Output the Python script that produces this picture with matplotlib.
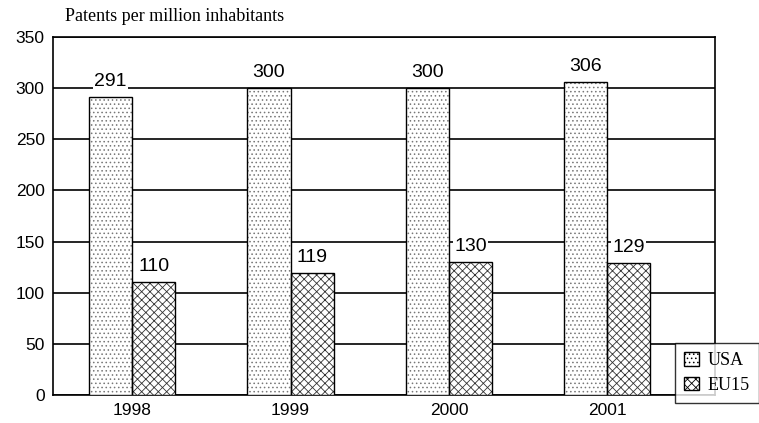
import numpy
import matplotlib
matplotlib.use("Agg")
import matplotlib.pyplot

# Данные
years = ["1998", "1999", "2000", "2001"]
usa = [291, 300, 300, 306]
eu15 = [110, 119, 130, 129]

matplotlib.pyplot.rcParams["hatch.linewidth"] = 0.6

fig = matplotlib.pyplot.figure(figsize=(7.59, 4.23), dpi=100)
ax = fig.add_axes([0.0698, 0.0662, 0.8722, 0.8463])

x = numpy.arange(len(years))
width = 0.272

# Штриховка (серым)
ax.bar(x - width / 2, usa, width, color="white", edgecolor="#777777",
       hatch="....", linewidth=0, zorder=3)
ax.bar(x + width / 2, eu15, width, color="white", edgecolor="#333333",
       hatch="xxxx", linewidth=0, zorder=3)

# Контуры столбцов
b1 = ax.bar(x - width / 2, usa, width, color="none", edgecolor="black",
            linewidth=1, zorder=3)
b2 = ax.bar(x + width / 2, eu15, width, color="none", edgecolor="black",
            linewidth=1, zorder=3)

# Подписи значений
for bars in (b1, b2):
    for bar in bars:
        h = bar.get_height()
        ax.text(bar.get_x() + bar.get_width() / 2, h + 7, f"{h:g}",
                ha="center", va="bottom", fontsize=14, family="Liberation Sans",
                zorder=4, bbox=dict(facecolor="white", edgecolor="none", pad=1))

# Оси
ax.set_ylim(0, 350)
ax.set_xlim(-0.5, 3.68)
ax.set_yticks(range(0, 351, 50))
ax.set_xticks(x)
ax.set_xticklabels(years)
ax.grid(axis="y", color="black", linewidth=1.2, zorder=0)
ax.tick_params(axis="both", length=0, labelsize=12.5, pad=6)
for lab in ax.get_xticklabels() + ax.get_yticklabels():
    lab.set_family("Liberation Sans")
for s in ax.spines.values():
    s.set_linewidth(1.2)

fig.text(0.085, 0.94, "Patents per million inhabitants", family="Liberation Serif",
         fontsize=13, va="bottom")

# Легенда
usa_patch = matplotlib.patches.Patch(facecolor="white", edgecolor="black", hatch="....")
eu_patch = matplotlib.patches.Patch(facecolor="white", edgecolor="black", hatch="xxxx")
leg = ax.legend([usa_patch, eu_patch], ["USA", "EU15"],
                loc="lower left", bbox_to_anchor=(0.94, -0.022), frameon=True,
                fancybox=False, edgecolor="black", prop={"family": "Liberation Serif", "size": 13},
                handlelength=0.8, handleheight=0.8, handletextpad=0.5, borderpad=0.5,
                labelspacing=0.4, borderaxespad=0)
leg.get_frame().set_linewidth(1)
leg.set_zorder(5)

fig.savefig("out.png")
